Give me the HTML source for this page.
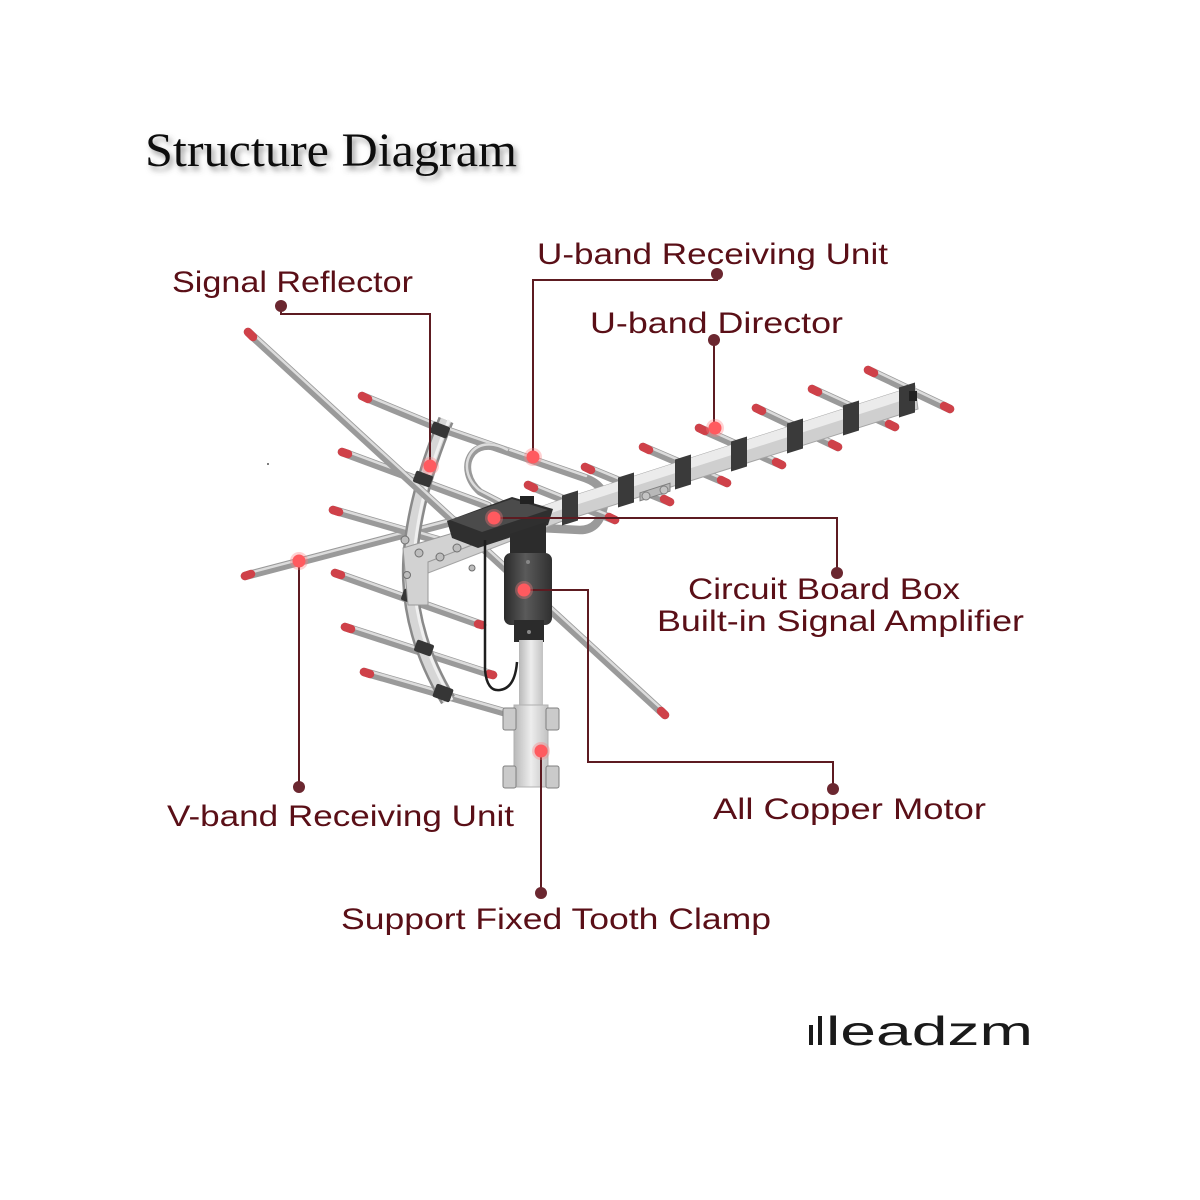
<!DOCTYPE html>
<html>
<head>
<meta charset="utf-8">
<style>
  html,body{margin:0;padding:0;background:#fff;}
  svg{display:block;}
  .r{stroke:#9a9a9a;stroke-width:8.5;stroke-linecap:round;fill:none}
  .h{stroke:#dcdcdc;stroke-width:2.5;stroke-linecap:round;fill:none}
  .t{stroke:#cf4149;stroke-width:8.5;stroke-linecap:round}
  .c{fill:#3a3a3a}
  .lbl{font-family:"Liberation Sans",sans-serif;font-size:30px;fill:#5a0f17}
  .cn{stroke:#5d1b21;stroke-width:2;fill:none}
  .dd{fill:#6b2730}
  .rd{fill:#ff5a5f}
  .rh{fill:#ff7a7e;opacity:.35}
</style>
</head>
<body>
<svg width="1200" height="1200" viewBox="0 0 1200 1200" xmlns="http://www.w3.org/2000/svg">
<defs>
  <filter id="sh" x="-10%" y="-30%" width="130%" height="180%">
    <feDropShadow dx="3" dy="4" stdDeviation="3" flood-color="#555" flood-opacity="0.6"/>
  </filter>
  <linearGradient id="motor" x1="0" x2="1" y1="0" y2="0">
    <stop offset="0" stop-color="#2a2a2a"/>
    <stop offset="0.45" stop-color="#5a5a5a"/>
    <stop offset="1" stop-color="#303030"/>
  </linearGradient>
  <linearGradient id="mast" x1="0" x2="1" y1="0" y2="0">
    <stop offset="0" stop-color="#b8b8b8"/>
    <stop offset="0.5" stop-color="#ededed"/>
    <stop offset="1" stop-color="#c2c2c2"/>
  </linearGradient>
</defs>

<rect width="1200" height="1200" fill="#fff"/>

<!-- Title -->
<text x="145" y="166" font-family="'Liberation Serif',serif" font-size="48" fill="#111" textLength="372" lengthAdjust="spacingAndGlyphs" filter="url(#sh)">Structure Diagram</text>

<!-- ===== Antenna ===== -->
<!-- V-band left arm -->
<line class="r" x1="245" y1="576" x2="455" y2="521"/>
<line class="h" x1="245" y1="574" x2="455" y2="519"/>
<line class="t" x1="245" y1="576" x2="251" y2="574"/>

<!-- V-band reflector rods -->
<g>
  <line class="r" x1="342" y1="452" x2="488" y2="506"/><line class="h" x1="343" y1="450" x2="489" y2="504"/>
  <line class="t" x1="342" y1="452" x2="348" y2="454"/>
  <line class="r" x1="333" y1="510" x2="455" y2="545"/><line class="h" x1="334" y1="508" x2="456" y2="543"/>
  <line class="t" x1="333" y1="510" x2="339" y2="512"/>
  <line class="r" x1="335" y1="573" x2="482" y2="625"/><line class="h" x1="336" y1="571" x2="483" y2="623"/>
  <line class="t" x1="335" y1="573" x2="341" y2="575"/><line class="t" x1="478" y1="624" x2="482" y2="625"/>
  <line class="r" x1="345" y1="627" x2="493" y2="675"/><line class="h" x1="346" y1="625" x2="494" y2="673"/>
  <line class="t" x1="345" y1="627" x2="351" y2="629"/><line class="t" x1="489" y1="674" x2="493" y2="675"/>
  <line class="r" x1="364" y1="672" x2="507" y2="713"/><line class="h" x1="365" y1="670" x2="508" y2="711"/>
  <line class="t" x1="364" y1="672" x2="370" y2="674"/>
</g>

<!-- Reflector bar -->
<path d="M446 420 C425 470 408 530 410 580 C412 630 430 670 448 700" stroke="#8a8a8a" stroke-width="16" fill="none"/>
<path d="M446 420 C425 470 408 530 410 580 C412 630 430 670 448 700" stroke="#d6d6d6" stroke-width="11" fill="none"/>
<path d="M449 420 C428 470 412 530 414 580 C416 630 434 670 452 700" stroke="#f0f0f0" stroke-width="3" fill="none"/>

<!-- Long V-band arm -->
<line class="r" x1="248" y1="332" x2="665" y2="715"/>
<line class="h" x1="249" y1="330" x2="666" y2="713"/>
<line class="t" x1="248" y1="332" x2="253" y2="337"/>
<line class="t" x1="661" y1="711" x2="665" y2="715"/>

<!-- Top reflector rod + U-band dipole -->
<path class="r" d="M362 396 L437 427 L585 478 Q607 486 604 505 Q600 530 580 530 L540 528"/>
<path class="h" d="M363 394 L438 425 L586 476"/>
<line class="t" x1="362" y1="396" x2="368" y2="399"/>
<path d="M508 452 C470 432 455 470 480 492 L515 510" stroke="#9a9a9a" stroke-width="7" fill="none"/>
<path d="M508 450 C472 430 453 468 479 490 L514 508" stroke="#dcdcdc" stroke-width="2.5" fill="none"/>

<!-- Reflector clips -->
<g fill="#363636">
  <rect x="-9" y="-6" width="18" height="12" rx="2" transform="translate(440,430) rotate(22)"/>
  <rect x="-9" y="-6" width="18" height="12" rx="2" transform="translate(423,479) rotate(20)"/>
  <rect x="-9" y="-6" width="18" height="12" rx="2" transform="translate(411,597) rotate(20)"/>
  <rect x="-9" y="-6" width="18" height="12" rx="2" transform="translate(424,648) rotate(20)"/>
  <rect x="-9" y="-7" width="18" height="14" rx="2" transform="translate(443,693) rotate(20)"/>
</g>

<!-- Director rods -->
<g>
  <line class="r" x1="868" y1="370" x2="950" y2="409"/><line class="h" x1="869" y1="368" x2="951" y2="407"/>
  <line class="t" x1="868" y1="370" x2="874" y2="373"/><line class="t" x1="944" y1="406" x2="950" y2="409"/>
  <line class="r" x1="812" y1="389" x2="895" y2="427"/><line class="h" x1="813" y1="387" x2="896" y2="425"/>
  <line class="t" x1="812" y1="389" x2="818" y2="392"/><line class="t" x1="889" y1="424" x2="895" y2="427"/>
  <line class="r" x1="756" y1="408" x2="838" y2="447"/><line class="h" x1="757" y1="406" x2="839" y2="445"/>
  <line class="t" x1="756" y1="408" x2="762" y2="411"/><line class="t" x1="832" y1="444" x2="838" y2="447"/>
  <line class="r" x1="699" y1="428" x2="782" y2="465"/><line class="h" x1="700" y1="426" x2="783" y2="463"/>
  <line class="t" x1="699" y1="428" x2="705" y2="431"/><line class="t" x1="776" y1="462" x2="782" y2="465"/>
  <line class="r" x1="643" y1="447" x2="727" y2="483"/><line class="h" x1="644" y1="445" x2="728" y2="481"/>
  <line class="t" x1="643" y1="447" x2="649" y2="450"/><line class="t" x1="721" y1="480" x2="727" y2="483"/>
  <line class="r" x1="585" y1="467" x2="670" y2="502"/><line class="h" x1="586" y1="465" x2="671" y2="500"/>
  <line class="t" x1="585" y1="467" x2="591" y2="470"/><line class="t" x1="664" y1="499" x2="670" y2="502"/>
  <line class="r" x1="528" y1="485" x2="615" y2="520"/><line class="h" x1="529" y1="483" x2="616" y2="518"/>
  <line class="t" x1="528" y1="485" x2="534" y2="488"/><line class="t" x1="609" y1="517" x2="615" y2="520"/>
</g>

<!-- Boom -->
<polygon points="425,548 560,500 915,386 918,409 560,522 428,573" fill="#cfcfcf" stroke="#a5a5a5" stroke-width="1"/>
<polygon points="425,548 560,500 915,386 916,396 560,510 426,558" fill="#ebebeb"/>

<!-- Boom clips -->
<g class="c">
  <rect x="-8" y="-15" width="16" height="30" transform="translate(907,400) skewY(-17.7)"/>
  <rect x="-8" y="-15" width="16" height="30" transform="translate(851,418) skewY(-17.7)"/>
  <rect x="-8" y="-15" width="16" height="30" transform="translate(795,436) skewY(-17.7)"/>
  <rect x="-8" y="-15" width="16" height="30" transform="translate(739,454) skewY(-17.7)"/>
  <rect x="-8" y="-15" width="16" height="30" transform="translate(683,472) skewY(-17.7)"/>
  <rect x="-8" y="-15" width="16" height="30" transform="translate(626,490) skewY(-17.7)"/>
  <rect x="-8" y="-15" width="16" height="30" transform="translate(570,508) skewY(-17.7)"/>
</g>
<rect x="909" y="391" width="8" height="10" fill="#222"/>

<!-- Clamp on boom -->
<g fill="#c4c4c4" stroke="#7f7f7f" stroke-width="1">
  <rect x="-15" y="-4" width="30" height="8" transform="translate(655,492) skewY(-17.7)" fill="#b8b8b8"/>
  <circle cx="646" cy="496" r="4"/><circle cx="664" cy="490" r="4"/>
</g>

<!-- Left bracket -->
<polygon points="403,548 470,528 472,545 428,562 428,605 408,605" fill="#d2d2d2" stroke="#999" stroke-width="1"/>
<g fill="#bdbdbd" stroke="#6f6f6f" stroke-width="1">
  <circle cx="405" cy="540" r="4"/><circle cx="419" cy="553" r="4"/>
  <circle cx="440" cy="557" r="4"/><circle cx="457" cy="548" r="4"/>
  <circle cx="407" cy="575" r="3.5"/><circle cx="472" cy="568" r="3"/>
</g>

<!-- Circuit board box -->
<polygon points="447,521 512,497 553,509 548,525 478,548 452,538" fill="#2f2f2f"/>
<polygon points="450,520 512,499 548,510 482,532" fill="#4b4b4b"/>
<rect x="520" y="496" width="14" height="8" fill="#222"/>

<!-- Cable -->
<path d="M485 540 L485 670 Q487 692 500 690 Q515 688 517 662" stroke="#1e1e1e" stroke-width="2.5" fill="none"/>

<!-- Motor neck -->
<polygon points="510,534 546,522 546,560 510,560" fill="#2c2c2c"/>
<!-- Motor -->
<rect x="504" y="553" width="48" height="72" rx="7" fill="url(#motor)"/>
<circle cx="528" cy="562" r="2" fill="#888"/>
<rect x="514" y="620" width="30" height="22" fill="#2b2b2b"/>
<circle cx="529" cy="632" r="2" fill="#888"/>

<!-- Mast -->
<rect x="519" y="640" width="24" height="72" fill="url(#mast)"/>
<rect x="514" y="705" width="34" height="82" fill="url(#mast)" stroke="#b0b0b0" stroke-width="1"/>
<g fill="#cacaca" stroke="#808080" stroke-width="1">
  <rect x="503" y="708" width="13" height="22" rx="2"/><rect x="546" y="708" width="13" height="22" rx="2"/>
  <rect x="503" y="766" width="13" height="22" rx="2"/><rect x="546" y="766" width="13" height="22" rx="2"/>
</g>

<circle cx="268" cy="464" r="1" fill="#555"/>

<!-- ===== Connectors ===== -->
<g class="cn">
  <path d="M281 306 V314 H430 V466"/>
  <path d="M717 275 V280 H533 V457"/>
  <path d="M714 340 V428"/>
  <path d="M494 518 H837 V573"/>
  <path d="M524 590 H588 V762 H833 V789"/>
  <path d="M299 561 V787"/>
  <path d="M541 751 V893"/>
</g>
<g>
  <circle class="dd" cx="281" cy="306" r="6"/>
  <circle class="dd" cx="717" cy="274" r="6"/>
  <circle class="dd" cx="714" cy="340" r="6"/>
  <circle class="dd" cx="837" cy="573" r="6"/>
  <circle class="dd" cx="833" cy="789" r="6"/>
  <circle class="dd" cx="299" cy="787" r="6"/>
  <circle class="dd" cx="541" cy="893" r="6"/>
</g>
<g>
  <circle class="rh" cx="430" cy="466" r="9"/><circle class="rd" cx="430" cy="466" r="6.5"/>
  <circle class="rh" cx="533" cy="457" r="9"/><circle class="rd" cx="533" cy="457" r="6.5"/>
  <circle class="rh" cx="715" cy="428" r="9"/><circle class="rd" cx="715" cy="428" r="6.5"/>
  <circle class="rh" cx="494" cy="518" r="9"/><circle class="rd" cx="494" cy="518" r="6.5"/>
  <circle class="rh" cx="524" cy="590" r="9"/><circle class="rd" cx="524" cy="590" r="6.5"/>
  <circle class="rh" cx="299" cy="561" r="9"/><circle class="rd" cx="299" cy="561" r="6.5"/>
  <circle class="rh" cx="541" cy="751" r="9"/><circle class="rd" cx="541" cy="751" r="6.5"/>
</g>

<!-- ===== Labels ===== -->
<text class="lbl" x="172" y="292" textLength="241" lengthAdjust="spacingAndGlyphs">Signal Reflector</text>
<text class="lbl" x="537" y="264" textLength="351" lengthAdjust="spacingAndGlyphs">U-band Receiving Unit</text>
<text class="lbl" x="590" y="333" textLength="253" lengthAdjust="spacingAndGlyphs">U-band Director</text>
<text class="lbl" x="688" y="599" textLength="272" lengthAdjust="spacingAndGlyphs">Circuit Board Box</text>
<text class="lbl" x="657" y="631" textLength="367" lengthAdjust="spacingAndGlyphs">Built-in Signal Amplifier</text>
<text class="lbl" x="713" y="819" textLength="273" lengthAdjust="spacingAndGlyphs">All Copper Motor</text>
<text class="lbl" x="167" y="826" textLength="347" lengthAdjust="spacingAndGlyphs">V-band Receiving Unit</text>
<text class="lbl" x="341" y="929" textLength="430" lengthAdjust="spacingAndGlyphs">Support Fixed Tooth Clamp</text>

<!-- Logo -->
<rect x="809" y="1025" width="4" height="20" fill="#1a1a1a"/>
<rect x="818" y="1016" width="4" height="29" fill="#1a1a1a"/>
<text x="826" y="1045" font-family="'Liberation Sans',sans-serif" font-size="41" fill="#1a1a1a" textLength="207" lengthAdjust="spacingAndGlyphs">leadzm</text>
</svg>
</body>
</html>
